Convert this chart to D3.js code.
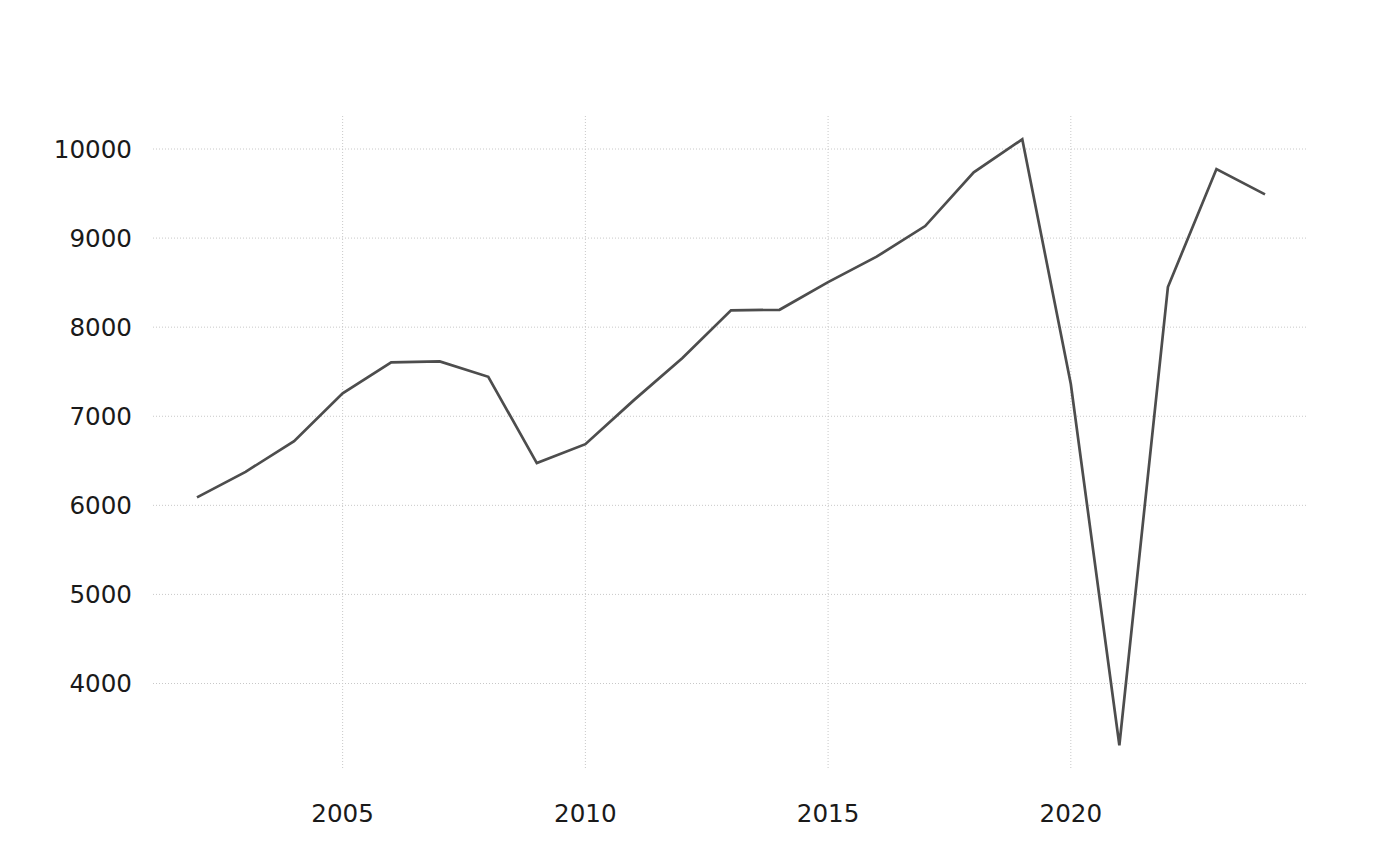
<!DOCTYPE html>
<html><head><meta charset="utf-8">
<script src="https://cdn.jsdelivr.net/npm/d3@7"></script>
<style>body{margin:0;background:#fff}svg{display:block}</style>
</head><body>
<svg id="c" width="1400" height="866"></svg>
<script>
const years = [2002,2003,2004,2005,2006,2007,2008,2009,2010,2011,2012,2013,2014,2015,2016,2017,2018,2019,2020,2021,2022,2023,2024];
const values = [6089,6376,6721,7257,7605,7616,7443,6474,6687,7181,7653,8189,8195,8506,8791,9135,9738,10109,7361,3307,8450,9775,9491];
const xTicks = [2005,2010,2015,2020];
const yTicks = [4000,5000,6000,7000,8000,9000,10000];

const svg = d3.select("#c");
const panel = {left:153, right:1307, top:116, bottom:769};
const x = d3.scaleLinear().domain([2002,2024]).range([197,1265]);
const y = d3.scaleLinear().domain([4000,10000]).range([683.5,149]);

const g = svg.append("g");
g.selectAll(".hg").data(yTicks).join("line")
  .attr("x1",panel.left).attr("x2",panel.right)
  .attr("y1",d=>y(d)).attr("y2",d=>y(d))
  .attr("stroke","#c8c8c8").attr("stroke-width",1).attr("stroke-dasharray","1,2");
g.selectAll(".vg").data(xTicks).join("line")
  .attr("y1",panel.top).attr("y2",panel.bottom)
  .attr("x1",d=>x(d)).attr("x2",d=>x(d))
  .attr("stroke","#c8c8c8").attr("stroke-width",1).attr("stroke-dasharray","1,2");

const line = d3.line().x((d,i)=>x(years[i])).y(d=>y(d));
g.append("path").datum(values).attr("d",line)
  .attr("fill","none").attr("stroke","#4d4d4d").attr("stroke-width",2.7)
  .attr("stroke-linejoin","miter");

const font = "DejaVu Sans";
g.selectAll(".yl").data(yTicks).join("text")
  .attr("x",132).attr("y",d=>y(d)).attr("dy","0.36em")
  .attr("text-anchor","end").attr("font-family",font).attr("font-size",24.6)
  .attr("fill","#1a1a1a").text(d=>d);
g.selectAll(".xl").data(xTicks).join("text")
  .attr("x",d=>x(d)).attr("y",822)
  .attr("text-anchor","middle").attr("font-family",font).attr("font-size",24.6)
  .attr("fill","#1a1a1a").text(d=>d);
</script>
</body></html>
